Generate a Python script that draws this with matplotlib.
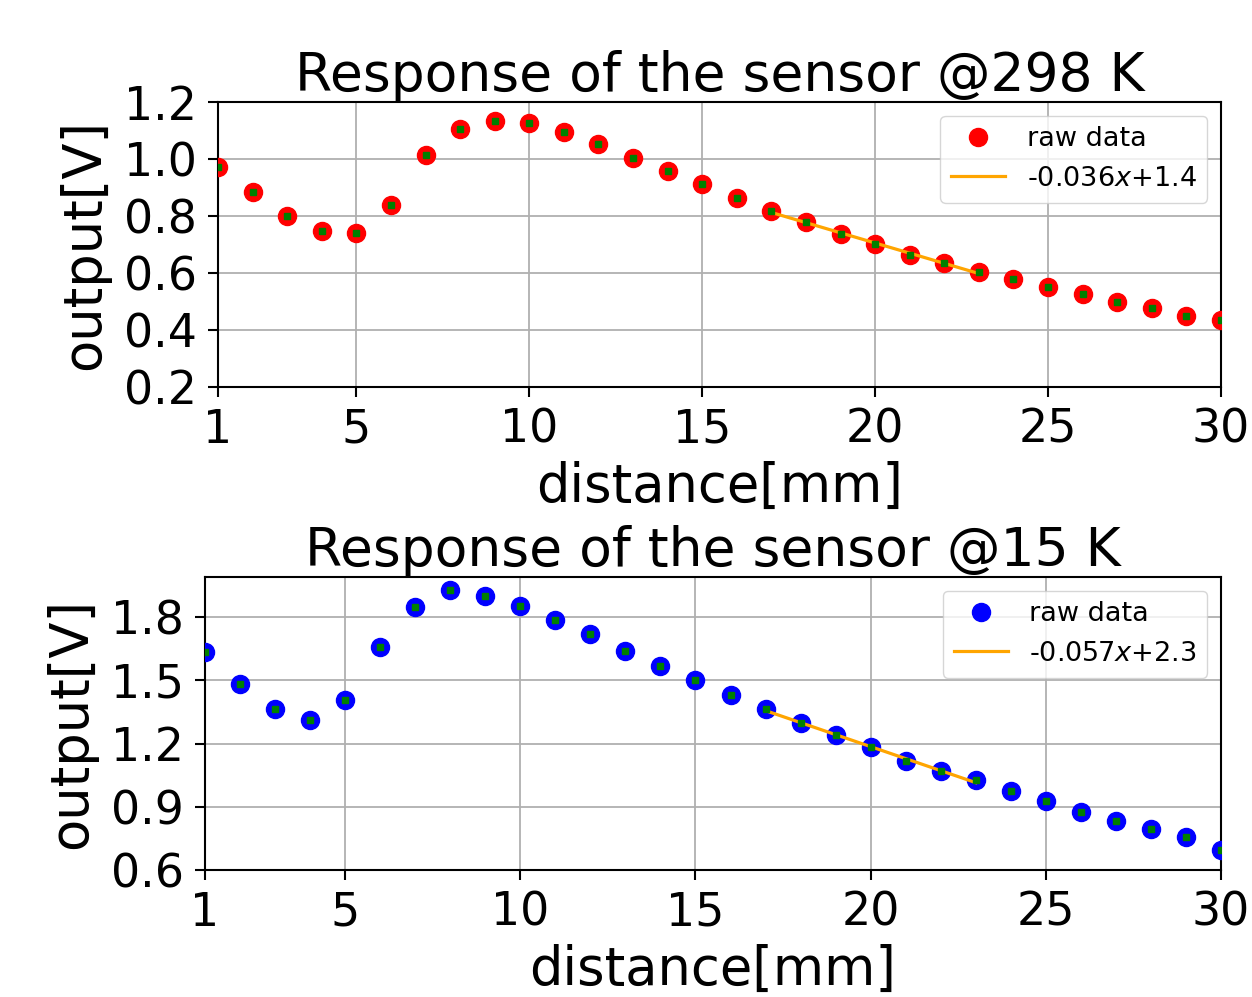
import numpy as np
import matplotlib
matplotlib.use("Agg")
import matplotlib.pyplot as plt

distance = list(range(1, 31))
out_298 = [0.973, 0.883, 0.801, 0.746, 0.739, 0.838, 1.014, 1.106, 1.133, 1.126,
           1.094, 1.052, 1.005, 0.959, 0.911, 0.864, 0.818, 0.778, 0.737, 0.701,
           0.664, 0.634, 0.605, 0.579, 0.550, 0.525, 0.498, 0.476, 0.450, 0.435]
out_15 = [1.632, 1.481, 1.364, 1.312, 1.408, 1.659, 1.850, 1.928, 1.901, 1.853,
          1.787, 1.719, 1.641, 1.570, 1.502, 1.432, 1.363, 1.298, 1.242, 1.182,
          1.117, 1.069, 1.026, 0.976, 0.929, 0.874, 0.833, 0.796, 0.758, 0.695]
fit_start, fit_end = 17, 23
xticks = [1, 5, 10, 15, 20, 25, 30]
yticks_298 = [0.2, 0.4, 0.6, 0.8, 1.0, 1.2]
yticks_15 = [0.6, 0.9, 1.2, 1.5, 1.8]

W, H = 1252, 997
fig = plt.figure(figsize=(W / 100, H / 100), dpi=100)

TICK_FS = 33
LABEL_FS = 38
TITLE_FS = 38.5
LEG_FS = 19.5


def panel(rect, y, color, title, yticks, ylim):
    ax = fig.add_axes(rect)
    x = np.array(distance)
    yv = np.array(y)
    ax.plot(x, yv, 'o', color=color, ms=13, label='raw data', zorder=3)
    ax.plot(x, yv, 's', color='green', ms=3.8, zorder=4)
    m = (x >= fit_start) & (x <= fit_end)
    k, b = np.polyfit(x[m], yv[m], 1)
    ax.plot(x[m], k * x[m] + b, '-', color='orange', lw=2.3, zorder=3.5,
            label=f'{k:.3f}$x$+{b:.1f}')
    ax.set_xlim(1, 30)
    ax.set_ylim(*ylim)
    ax.set_xticks(xticks)
    ax.set_yticks(yticks)
    ax.set_yticklabels([f'{t:.1f}' for t in yticks])
    ax.grid(True, color='#b0b0b0', lw=1.3)
    ax.set_axisbelow(True)
    ax.tick_params(labelsize=TICK_FS, length=7, width=1.5, pad=8)
    for s in ax.spines.values():
        s.set_linewidth(1.5)
    ax.set_xlabel('distance[mm]', fontsize=LABEL_FS, labelpad=6)
    ax.set_ylabel('output[V]', fontsize=LABEL_FS, labelpad=10)
    ax.set_title(title, fontsize=TITLE_FS, pad=8)
    ax.legend(loc='upper right', fontsize=LEG_FS)
    return ax


panel([218 / W, 1 - 387 / H, (1221 - 218) / W, (387 - 102) / H],
      out_298, 'red', 'Response of the sensor @298 K', yticks_298, (0.2, 1.2))
panel([205 / W, 1 - 870 / H, (1221 - 205) / W, (870 - 577) / H],
      out_15, 'blue', 'Response of the sensor @15 K', yticks_15, (0.6, 1.99))

fig.savefig('out.png', dpi=100)
